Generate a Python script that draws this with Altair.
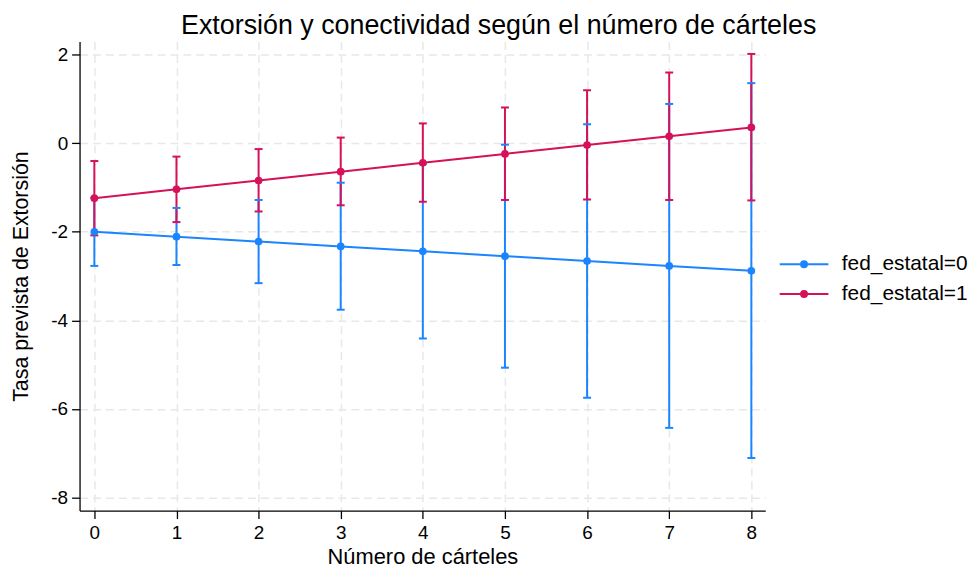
import altair as alt
import pandas as pd

# ---- data ----
carteles = [0, 1, 2, 3, 4, 5, 6, 7, 8]
series = ["fed_estatal=0", "fed_estatal=1"]

blue_pred = [-2.00, -2.11, -2.22, -2.33, -2.44, -2.55, -2.66, -2.77, -2.88]
blue_lo = [-2.77, -2.75, -3.16, -3.76, -4.41, -5.07, -5.75, -6.43, -7.11]
blue_hi = [-1.23, -1.46, -1.28, -0.89, -0.47, -0.03, 0.43, 0.89, 1.36]

red_pred = [-1.24, -1.04, -0.84, -0.64, -0.44, -0.24, -0.04, 0.16, 0.36]
red_lo = [-2.08, -1.78, -1.54, -1.40, -1.32, -1.28, -1.27, -1.28, -1.29]
red_hi = [-0.40, -0.30, -0.13, 0.13, 0.45, 0.81, 1.20, 1.60, 2.02]

colors = ["#1a85ff", "#d41159"]
x_ticks = [0, 1, 2, 3, 4, 5, 6, 7, 8]
y_ticks = [-8, -6, -4, -2, 0, 2]

rows = []
for s, pred, lo, hi in [(series[0], blue_pred, blue_lo, blue_hi),
                        (series[1], red_pred, red_lo, red_hi)]:
    for i, c in enumerate(carteles):
        rows.append({"carteles": c, "serie": s, "pred": pred[i], "lo": lo[i], "hi": hi[i]})
df = pd.DataFrame(rows)

FONT = "Liberation Sans"

x_enc = alt.X("carteles:Q",
              scale=alt.Scale(domain=[-0.18, 8.17], nice=False, zero=False),
              axis=alt.Axis(values=x_ticks, labelExpr="'' + datum.value",
                            title="Número de cárteles"))
y_scale = alt.Scale(domain=[-8.3, 2.3], nice=False, zero=False)
y_axis = alt.Axis(values=y_ticks, labelExpr="'' + datum.value",
                  title="Tasa prevista de Extorsión")

legend_path = "M-2.45,0L2.45,0M-0.3,0A0.3,0.3,0,1,0,0.3,0A0.3,0.3,0,1,0,-0.3,0Z"
legend = alt.Legend(
    title=None, orient="none", legendX=718, legendY=213,
    symbolType=legend_path, symbolSize=400, symbolStrokeWidth=2,
    symbolOpacity=1,
    labelFontSize=21, labelFont=FONT, labelColor="black",
    labelOffset=27, rowPadding=9, padding=0, labelLimit=300,
)
cscale = alt.Scale(domain=series, range=colors)
stroke_enc = alt.Stroke("serie:N", scale=cscale, legend=legend)
fill_enc = alt.Fill("serie:N", scale=cscale, legend=legend)

base = alt.Chart(df)

bars = base.mark_rule(strokeWidth=2).encode(
    x=x_enc, y=alt.Y("lo:Q", scale=y_scale, axis=y_axis), y2="hi:Q", stroke=stroke_enc)
cap_lo = base.mark_tick(orient="horizontal", size=8, thickness=2, opacity=1).encode(
    x=x_enc, y=alt.Y("lo:Q", scale=y_scale, axis=y_axis), fill=fill_enc)
cap_hi = base.mark_tick(orient="horizontal", size=8, thickness=2, opacity=1).encode(
    x=x_enc, y=alt.Y("hi:Q", scale=y_scale, axis=y_axis), fill=fill_enc)
lines = base.mark_line(strokeWidth=2).encode(
    x=x_enc, y=alt.Y("pred:Q", scale=y_scale, axis=y_axis), stroke=stroke_enc)
pts = base.mark_point(filled=True, size=60, opacity=1, strokeWidth=0).encode(
    x=x_enc, y=alt.Y("pred:Q", scale=y_scale, axis=y_axis), fill=fill_enc, stroke=stroke_enc)

chart = alt.layer(bars, cap_lo, cap_hi, lines, pts).properties(
    width=690, height=472,
    title=alt.TitleParams(
        "Extorsión y conectividad según el número de cárteles",
        fontSize=27, font=FONT, fontWeight="normal", color="black",
        anchor="start", dx=171, offset=2),
    autosize=alt.AutoSizeParams(type="none"),
    padding={"left": 72, "top": 32, "right": 208, "bottom": 60},
).configure_view(stroke=None).configure_axis(
    labelFont=FONT, titleFont=FONT, labelFontSize=19, titleFontSize=22,
    labelColor="black", titleColor="black", titleFontWeight="normal",
    domainColor="black", domainWidth=1.3, tickColor="black", tickWidth=1.3,
    tickSize=8, labelPadding=4, titlePadding=0,
    grid=True, gridColor="#e8e8e8", gridDash=[8, 5], gridWidth=1.5,
).configure_axisX(labelPadding=5, titlePadding=4).configure_axisY(
    titlePadding=18, titleFontSize=21.5)

chart.save("out.html", embed_options={"renderer": "svg", "actions": False})
